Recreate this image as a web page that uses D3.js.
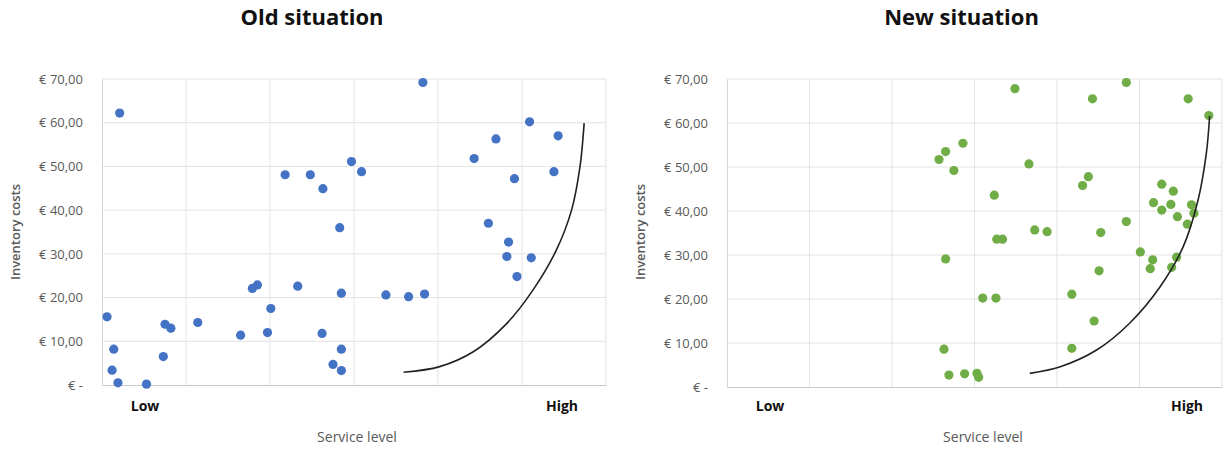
<!DOCTYPE html>
<html>
<head>
<meta charset="utf-8">
<script src="https://cdn.jsdelivr.net/npm/d3@7"></script>
<style>
  body { margin: 0; background: #fff; }
  svg { display: block; font-family: "Open Sans", "Liberation Sans", sans-serif; }
</style>
</head>
<body>
<svg id="chart" width="1231" height="451"></svg>
<script>
// service level (0..6 grid units) and inventory costs (EUR)
const oldX = [0.21, 0.06, 0.14, 0.12, 0.19, 0.53, 0.73, 0.75, 0.82, 1.14, 1.65, 1.79, 1.85, 2.01, 1.97,
  2.18, 2.48, 2.33, 2.63, 2.97, 3.09, 2.83, 2.85, 2.62, 2.85, 2.75, 2.85, 3.38, 3.65, 3.84, 3.82,
  4.43, 4.69, 5.09, 5.43, 4.91, 5.38, 4.60, 4.84, 4.82, 5.11, 4.94];
const oldY = [62.2, 15.6, 8.2, 3.4, 0.5, 0.2, 6.5, 13.9, 13.0, 14.3, 11.4, 22.1, 22.9, 17.5, 12.0,
  48.1, 48.1, 22.6, 44.9, 51.1, 48.8, 36.0, 21.0, 11.8, 8.2, 4.7, 3.3, 20.6, 20.2, 20.8, 69.2,
  51.8, 56.3, 60.2, 57.0, 47.2, 48.8, 37.0, 32.7, 29.4, 29.1, 24.8];

const newX = [3.49, 4.84, 4.43, 5.59, 5.84, 2.86, 2.65, 2.57, 2.75, 3.66, 3.24, 4.38, 4.31, 3.27, 3.34,
  3.73, 3.88, 4.53, 4.84, 2.65, 5.01, 5.16, 5.13, 4.51, 5.39, 5.45, 5.27, 5.41, 5.17, 5.27, 5.38,
  5.46, 5.58, 5.63, 5.66, 3.10, 3.26, 4.18, 4.45, 2.63, 4.18, 2.69, 2.88, 3.03, 3.05];
const newY = [67.8, 69.2, 65.5, 65.5, 61.7, 55.4, 53.5, 51.7, 49.2, 50.7, 43.6, 47.8, 45.8, 33.6, 33.6,
  35.7, 35.3, 35.1, 37.6, 29.1, 30.7, 28.9, 26.9, 26.4, 27.2, 29.5, 46.1, 44.5, 41.9, 40.2, 41.5,
  38.7, 37.0, 41.4, 39.5, 20.2, 20.2, 21.1, 15.0, 8.6, 8.8, 2.7, 3.0, 3.1, 2.2];

// hand-drawn trade-off curves
const oldCurveX = [3.59, 4.02, 4.42, 4.82, 5.13, 5.41, 5.59, 5.69, 5.74];
const oldCurveY = [2.9, 4.2, 7.6, 14.1, 21.7, 30.9, 40.0, 49.9, 59.9];
const newCurveX = [3.67, 4.04, 4.48, 4.88, 5.25, 5.53, 5.71, 5.81, 5.85];
const newCurveY = [3.1, 4.6, 8.4, 14.5, 22.8, 31.9, 42.5, 53.1, 61.6];

const yTicks = [0, 10, 20, 30, 40, 50, 60, 70];
const yTickLabels = ["€ -", "€ 10,00", "€ 20,00", "€ 30,00", "€ 40,00", "€ 50,00", "€ 60,00", "€ 70,00"];
const xGrid = [0, 1, 2, 3, 4, 5, 6];

const svg = d3.select('#chart');

function panel(opt) {
  const x = d3.scaleLinear().domain([0, 6]).range([opt.left, opt.right]);
  const y = d3.scaleLinear().domain([0, 70]).range([opt.bottom, opt.top]);
  const g = svg.append('g');

  // gridlines
  g.append('g').selectAll('line.h').data(yTicks.slice(1)).join('line')
    .attr('x1', opt.left).attr('x2', opt.right)
    .attr('y1', d => y(d)).attr('y2', d => y(d))
    .attr('stroke', '#e3e3e3').attr('stroke-width', 1);
  g.append('g').selectAll('line.v').data(xGrid.slice(1)).join('line')
    .attr('x1', d => x(d)).attr('x2', d => x(d))
    .attr('y1', opt.top).attr('y2', opt.bottom)
    .attr('stroke', '#e3e3e3').attr('stroke-width', 1);

  // axes
  const yAxis = d3.axisLeft(y).tickValues(yTicks).tickFormat((d, i) => yTickLabels[i]).tickSize(0).tickPadding(19);
  const ya = g.append('g').attr('transform', `translate(${opt.left},0)`).call(yAxis);
  ya.select('.domain').attr('stroke', '#d6d6d6');
  ya.selectAll('text').attr('fill', '#595959').style('font-size', '13px').style('font-family', '"Open Sans", sans-serif');

  const xAxis = d3.axisBottom(x).tickValues([]).tickSize(0);
  const xa = g.append('g').attr('transform', `translate(0,${opt.bottom})`).call(xAxis);
  xa.select('.domain').attr('stroke', '#c8c8c8');

  // points
  g.append('g').selectAll('circle').data(opt.xs.map((v, i) => [v, opt.ys[i]])).join('circle')
    .attr('cx', d => x(d[0])).attr('cy', d => y(d[1]))
    .attr('r', 4.6).attr('fill', opt.color);

  // curve
  const line = d3.line().x(d => x(d[0])).y(d => y(d[1])).curve(d3.curveCatmullRom.alpha(0.5));
  g.append('path').datum(opt.cx.map((v, i) => [v, opt.cy[i]]))
    .attr('d', line).attr('fill', 'none').attr('stroke', '#222').attr('stroke-width', 1.6);

  // titles
  const mid = (opt.left + opt.right) / 2;
  g.append('text').attr('x', mid + opt.titleShift).attr('y', 25).attr('text-anchor', 'middle')
    .style('font-size', '22px').style('font-weight', 'bold').attr('fill', '#111').text(opt.title);
  g.append('text').attr('transform', `translate(${opt.ytx},232) rotate(-90)`).attr('text-anchor', 'middle')
    .attr('dy', '0.35em').style('font-size', '13px').style('font-weight', '600').attr('fill', '#595959')
    .text('Inventory costs');
  g.append('text').attr('x', opt.lowX).attr('y', 411).attr('text-anchor', 'middle')
    .style('font-size', '14px').style('font-weight', 'bold').attr('fill', '#111').text('Low');
  g.append('text').attr('x', opt.highX).attr('y', 411).attr('text-anchor', 'middle')
    .style('font-size', '14px').style('font-weight', 'bold').attr('fill', '#111').text('High');
  g.append('text').attr('x', opt.slX).attr('y', 442).attr('text-anchor', 'middle')
    .style('font-size', '14px').attr('fill', '#595959').text('Service level');
}

panel({ left: 102, right: 606, top: 79, bottom: 385, xs: oldX, ys: oldY, cx: oldCurveX, cy: oldCurveY,
  color: '#4472C4', title: 'Old situation', titleShift: -42, ytx: 15, lowX: 145, highX: 562, slX: 357 });
panel({ left: 727, right: 1222, top: 79, bottom: 387, xs: newX, ys: newY, cx: newCurveX, cy: newCurveY,
  color: '#70AD47', title: 'New situation', titleShift: -13, ytx: 640, lowX: 770, highX: 1187, slX: 983 });
</script>
</body>
</html>
